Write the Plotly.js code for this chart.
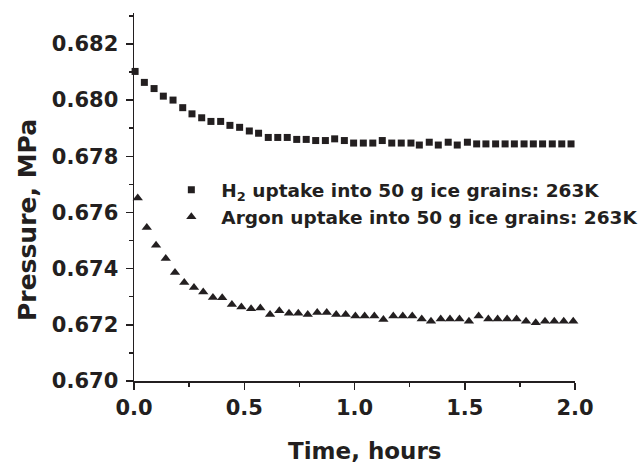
<!DOCTYPE html>
<html>
<head>
<meta charset="utf-8">
<script src="https://cdn.plot.ly/plotly-3.0.1.min.js"></script>
<style>
  html, body { margin: 0; padding: 0; background: #fff; }
  #chart { width: 640px; height: 466px; }
</style>
</head>
<body>
<div id="chart"></div>
<script>
// Time (hours) for the H2 series
const h2Time = [0.005, 0.047, 0.091, 0.133, 0.177, 0.221, 0.263, 0.307, 0.349, 0.393,
  0.435, 0.479, 0.523, 0.565, 0.609, 0.652, 0.695, 0.738, 0.781, 0.824,
  0.868, 0.910, 0.954, 0.996, 1.040, 1.083, 1.126, 1.169, 1.212, 1.256,
  1.294, 1.339, 1.380, 1.425, 1.466, 1.512, 1.554, 1.596, 1.640, 1.683,
  1.725, 1.769, 1.811, 1.853, 1.897, 1.940, 1.982, 2.026];
// Pressure (MPa) for the H2 series
const h2Pressure = [0.68102, 0.68063, 0.68041, 0.68014, 0.68000, 0.67973, 0.67951, 0.67937, 0.67924, 0.67924,
  0.67910, 0.67903, 0.67890, 0.67882, 0.67867, 0.67867, 0.67867, 0.67860, 0.67860, 0.67856,
  0.67856, 0.67862, 0.67856, 0.67847, 0.67847, 0.67847, 0.67856, 0.67847, 0.67847, 0.67847,
  0.67840, 0.67850, 0.67840, 0.67850, 0.67840, 0.67850, 0.67844, 0.67844, 0.67844, 0.67844,
  0.67844, 0.67844, 0.67844, 0.67844, 0.67844, 0.67844, 0.67844, 0.67844];
// Time (hours) for the Argon series
const arTime = [0.017, 0.058, 0.100, 0.144, 0.186, 0.228, 0.272, 0.314, 0.358, 0.400,
  0.444, 0.487, 0.531, 0.573, 0.617, 0.659, 0.703, 0.745, 0.788, 0.831,
  0.874, 0.917, 0.960, 1.004, 1.046, 1.090, 1.131, 1.176, 1.219, 1.262,
  1.305, 1.347, 1.391, 1.433, 1.476, 1.519, 1.563, 1.607, 1.649, 1.692,
  1.735, 1.778, 1.822, 1.864, 1.906, 1.949, 1.992, 2.036];
// Pressure (MPa) for the Argon series
const arPressure = [0.67651, 0.67546, 0.67483, 0.67436, 0.67386, 0.67351, 0.67333, 0.67317, 0.67297, 0.67296,
  0.67272, 0.67263, 0.67257, 0.67260, 0.67237, 0.67250, 0.67241, 0.67241, 0.67237, 0.67244,
  0.67244, 0.67237, 0.67237, 0.67231, 0.67231, 0.67231, 0.67219, 0.67231, 0.67231, 0.67231,
  0.67221, 0.67213, 0.67221, 0.67221, 0.67221, 0.67213, 0.67231, 0.67221, 0.67221, 0.67221,
  0.67221, 0.67213, 0.67207, 0.67213, 0.67213, 0.67213, 0.67213, 0.67205];

const seriesNames = ['H<sub>2</sub> uptake into 50 g ice grains: 263K',
                     'Argon uptake into 50 g ice grains: 263K'];
const xTitle = 'Time, hours';
const yTitle = 'Pressure, MPa';

const ink = '#231f20';
const fontFam = '"DejaVu Sans", "Liberation Sans", Arial, sans-serif';

const traces = [
  {
    x: h2Time, y: h2Pressure, type: 'scatter', mode: 'markers', name: seriesNames[0],
    marker: { symbol: 'square', size: 7, color: ink },
    cliponaxis: false
  },
  {
    x: arTime, y: arPressure, type: 'scatter', mode: 'markers', name: seriesNames[1],
    marker: { symbol: 'triangle-up', size: 9, color: ink },
    cliponaxis: false
  }
];

const axisCommon = {
  showline: true, linecolor: ink, linewidth: 1.5,
  showgrid: false, zeroline: false,
  ticks: 'outside', ticklen: 7, tickwidth: 1.5, tickcolor: ink,
  tickfont: { family: fontFam, size: 21, color: ink, weight: 'bold' }
};

const layout = {
  width: 640, height: 466,
  margin: { l: 134, r: 65, t: 13, b: 85, autoexpand: false },
  paper_bgcolor: '#fff', plot_bgcolor: '#fff',
  font: { family: fontFam, color: ink },
  showlegend: true,
  legend: {
    x: 0.062, y: 0.57, xanchor: 'left', yanchor: 'top',
    bgcolor: 'rgba(0,0,0,0)', borderwidth: 0,
    itemwidth: 50,
    font: { family: fontFam, size: 18.5, color: ink, weight: 'bold' }
  },
  xaxis: Object.assign({}, axisCommon, {
    range: [0, 2.0], dtick: 0.5, tick0: 0, tickformat: '.1f',
    minor: { dtick: 0.25, ticklen: 4, tickwidth: 1.5, tickcolor: ink, ticks: 'outside' }
  }),
  yaxis: Object.assign({}, axisCommon, {
    range: [0.670, 0.6831], dtick: 0.002, tick0: 0.670, tickformat: '.3f',
    ticklabelstandoff: 3,
    minor: { dtick: 0.001, ticklen: 4, tickwidth: 1.5, tickcolor: ink, ticks: 'outside' }
  }),
  annotations: [
    {
      text: xTitle, xref: 'paper', yref: 'paper', x: 0.5227, y: -0.190,
      xanchor: 'center', yanchor: 'middle', showarrow: false,
      font: { family: fontFam, size: 23, color: ink, weight: 'bold' }
    },
    {
      text: yTitle, xref: 'paper', yref: 'paper', x: -0.2426, y: 0.4375,
      xanchor: 'center', yanchor: 'middle', showarrow: false, textangle: -90,
      font: { family: fontFam, size: 25, color: ink, weight: 'bold' }
    }
  ]
};

Plotly.newPlot('chart', traces, layout, { displayModeBar: false, staticPlot: true });
</script>
</body>
</html>
